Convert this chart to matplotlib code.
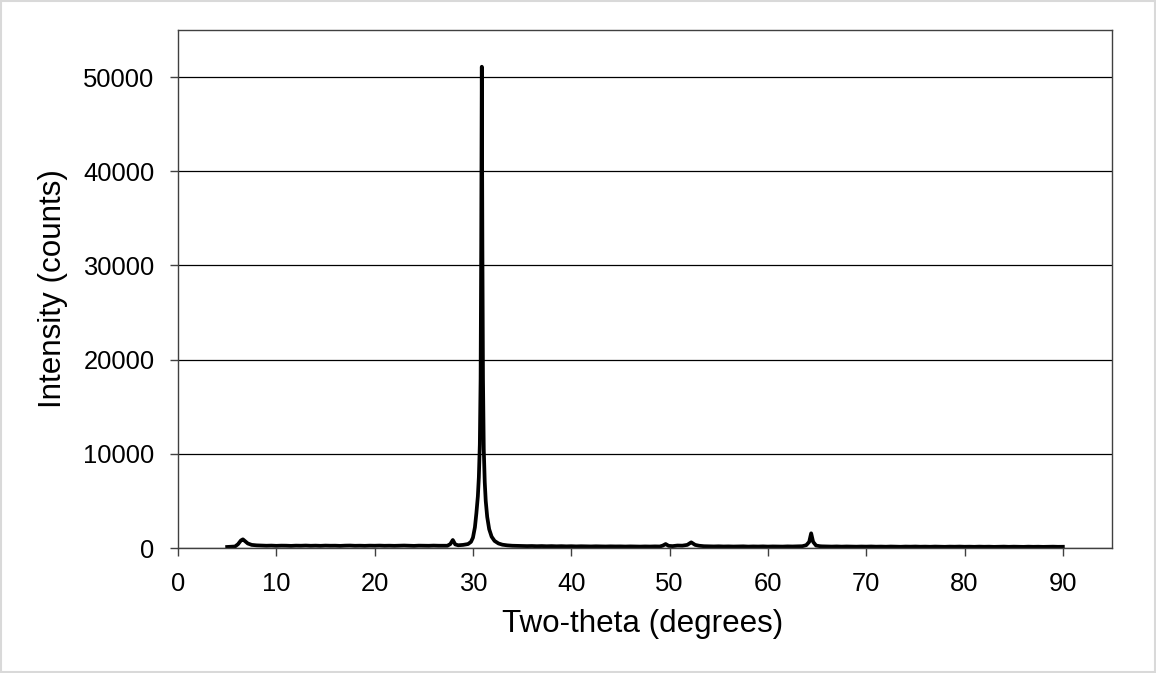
import matplotlib.pyplot as plt
from matplotlib.patches import Rectangle

plt.rcParams['font.family'] = ['Liberation Sans', 'DejaVu Sans']

two_theta = [
    # start of scan and low-angle bump
    5.0, 5.4, 5.8, 6.1, 6.4, 6.6, 6.8, 7.1, 7.5, 8.0,
    # flat background
    8.5, 9.0, 9.5, 10.0, 10.5, 11.0, 11.5, 12.0, 12.5, 13.0,
    13.5, 14.0, 14.5, 15.0, 15.5, 16.0, 16.5, 17.0, 17.5, 18.0,
    18.5, 19.0, 19.5, 20.0, 20.5, 21.0, 21.5, 22.0, 22.5, 23.0,
    23.5, 24.0, 24.5, 25.0, 25.5, 26.0, 26.5, 27.0,
    # small peak near 28 and the main reflection
    27.4, 27.7, 27.95, 28.2, 28.5, 29.0, 29.5, 29.8, 30.0, 30.2,
    30.35, 30.5, 30.6, 30.7, 30.78, 30.84, 30.9, 30.96, 31.02, 31.1,
    31.2, 31.3, 31.45, 31.65, 31.9, 32.2, 32.6, 33.0, 33.5,
    # background
    34.0, 34.5, 35.0, 35.5, 36.0, 36.5, 37.0, 37.5, 38.0, 38.5,
    39.0, 39.5, 40.0, 40.5, 41.0, 41.5, 42.0, 42.5, 43.0, 43.5,
    44.0, 44.5, 45.0, 45.5, 46.0, 46.5, 47.0, 47.5, 48.0, 48.5, 49.0,
    # weak features around 50-52
    49.3, 49.6, 49.9, 50.3, 50.8, 51.3, 51.8, 52.2, 52.6, 53.0,
    # background
    53.5, 54.0, 54.5, 55.0, 55.5, 56.0, 56.5, 57.0, 57.5, 58.0,
    58.5, 59.0, 59.5, 60.0, 60.5, 61.0, 61.5, 62.0, 62.5, 63.0, 63.5,
    # peak at 64.4
    63.9, 64.2, 64.4, 64.6, 64.9, 65.3,
    # high-angle background
    65.5, 66.0, 66.5, 67.0, 67.5, 68.0, 68.5, 69.0, 69.5, 70.0,
    70.5, 71.0, 71.5, 72.0, 72.5, 73.0, 73.5, 74.0, 74.5, 75.0,
    75.5, 76.0, 76.5, 77.0, 77.5, 78.0, 78.5, 79.0, 79.5, 80.0,
    80.5, 81.0, 81.5, 82.0, 82.5, 83.0, 83.5, 84.0, 84.5, 85.0,
    85.5, 86.0, 86.5, 87.0, 87.5, 88.0, 88.5, 89.0, 89.5, 90.0,
]

counts = [
    110, 130, 160, 400, 800, 920, 750, 480, 330, 280,
    260, 240, 255, 230, 250, 245, 225, 250, 240, 260,
    235, 250, 230, 255, 240, 245, 225, 250, 260, 235,
    245, 230, 250, 240, 255, 235, 245, 230, 250, 260,
    240, 225, 250, 245, 235, 255, 240, 245,
    240, 420, 850, 380, 290, 330, 420, 650, 1100, 2200,
    3700, 5500, 7500, 11000, 18000, 32000, 51100, 32000, 18000, 10500,
    7000, 5000, 3300, 2000, 1200, 750, 480, 350, 280,
    240, 225, 215, 200, 210, 190, 205, 185, 200, 180,
    195, 175, 190, 170, 185, 175, 165, 180, 170, 160,
    175, 165, 170, 155, 170, 160, 150, 165, 155, 170, 160,
    250, 420, 230, 200, 260, 250, 330, 600, 330, 240,
    190, 175, 165, 180, 160, 170, 155, 165, 175, 150,
    165, 155, 170, 150, 165, 160, 150, 170, 160, 175, 190,
    300, 650, 1560, 650, 260, 190,
    175, 160, 150, 165, 145, 160, 150, 140, 155, 145,
    160, 140, 150, 135, 155, 145, 130, 150, 140, 155,
    135, 145, 130, 150, 140, 125, 145, 135, 150, 130,
    140, 125, 145, 130, 140, 120, 135, 145, 125, 140,
    130, 120, 140, 125, 135, 120, 130, 140, 125, 130,
]

x_ticks = [0, 10, 20, 30, 40, 50, 60, 70, 80, 90]
y_ticks = [0, 10000, 20000, 30000, 40000, 50000]

W, H = 1156, 673
fig = plt.figure(figsize=(W / 100, H / 100), dpi=100)
ax = fig.add_axes([178 / W, 1 - 548 / H, 934 / W, 518 / H])

ax.plot(two_theta, counts, color='black', lw=2.7, solid_joinstyle='round')

ax.set_xlim(0, 95)
ax.set_ylim(0, 55000)
ax.set_xticks(x_ticks)
ax.set_yticks(y_ticks)
ax.set_yticklabels([str(v) for v in y_ticks])

ax.yaxis.grid(True, color='black', lw=0.9)
ax.set_axisbelow(True)
for s in ax.spines.values():
    s.set_color('#404040')
    s.set_linewidth(1.0)
ax.tick_params(direction='out', length=6, width=1.0, color='#404040',
               labelsize=18.4, pad=11, labelcolor='black')

fig.text(643 / W, 1 - 624 / H, 'Two-theta (degrees)', fontsize=22.6,
         ha='center', va='center')
fig.text(53 / W, 1 - 289 / H, 'Intensity (counts)', fontsize=22.6,
         ha='center', va='center', rotation=90)

# light frame round the whole chart
fig.patches.append(Rectangle((0.001, 0.0015), 0.998, 0.997, transform=fig.transFigure,
                             fill=False, edgecolor='#d9d9d9', lw=1.5))

fig.savefig('out.png', dpi=100)
